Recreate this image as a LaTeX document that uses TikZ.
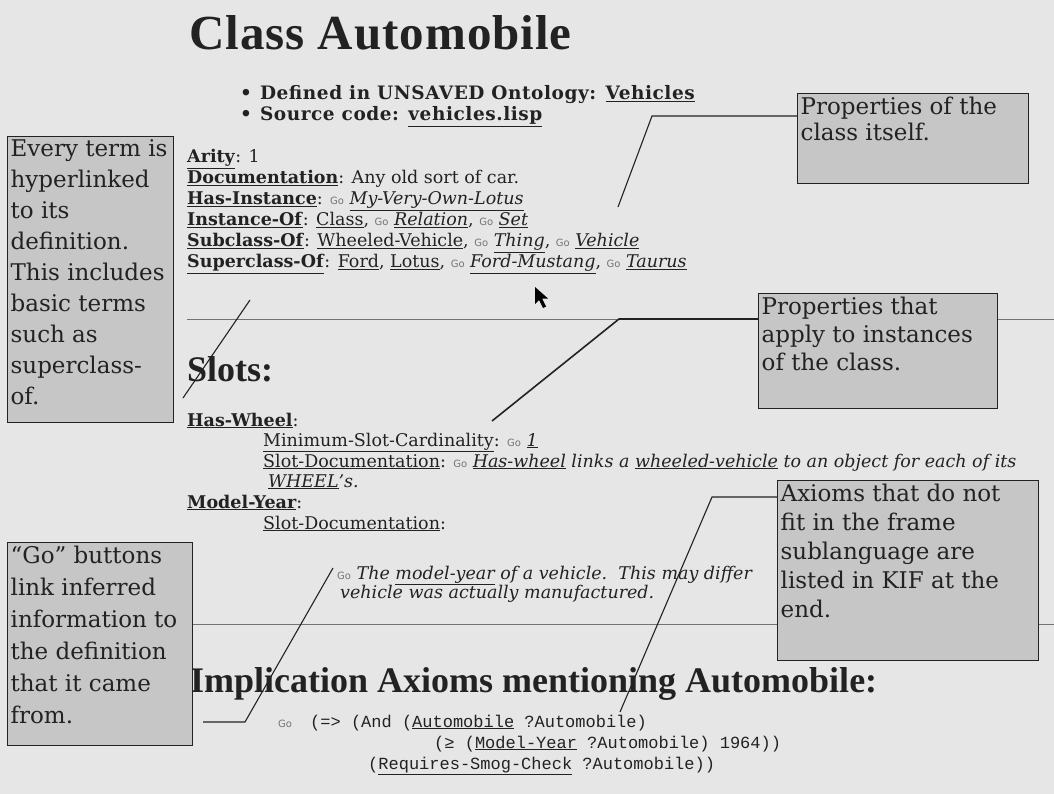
\documentclass[tikz,border=0pt]{standalone}
\usepackage{fontspec}
\setmainfont{DejaVu Serif}
\newfontfamily\headfont{Liberation Serif}
\newfontfamily\gofont{DejaVu Sans}
\setmonofont{Liberation Mono}
\usetikzlibrary{positioning}

\definecolor{paper}{HTML}{E6E6E6}
\definecolor{boxgray}{HTML}{C6C6C6}
\definecolor{ink}{HTML}{222222}

\newcommand\lk[1]{\underline{#1}}
\newcommand\slot[1]{\underline{\textbf{#1}}}
\newcommand\il[1]{\underline{\textit{#1}}}
\newcommand\go{{\gofont\fontsize{10}{10}\selectfont\color{black!55}Go}\ }
\newcommand\notetext[3]{\parbox[t][#2][t]{#1}{\raggedright #3}}

\begin{document}
\begin{tikzpicture}[x=1pt,y=-1pt,
	note/.style={draw=ink, fill=boxgray, line width=1.3pt, anchor=north west,
		inner sep=3pt, text=ink, font=\fontsize{23}{31}\selectfont},
	row/.style={anchor=base west, inner sep=0pt, text=ink, font=\fontsize{17.5}{21}\selectfont},
	head/.style={anchor=base west, inner sep=0pt, text=ink, font=\headfont\bfseries},
	code/.style={anchor=base west, inner sep=0pt, text=ink, font=\ttfamily\fontsize{17}{21}\selectfont},
	lead/.style={draw=ink, line width=1.1pt},
	hrule/.style={draw=black!55, line width=1pt}]

	\fill[paper] (0,0) rectangle (1054,794);
	\useasboundingbox (0,0) rectangle (1054,794);

	% page rules
	\draw[hrule] (187,319) -- (1054,319);
	\draw[hrule] (175,624) -- (1054,624);

	% class header
	\node[head, font=\headfont\bfseries\fontsize{49}{52}\selectfont] (title) at (189,50) {\addfontfeature{LetterSpace=2}Class Automobile};
	\node[row, font=\bfseries\fontsize{18.5}{21}\selectfont] (defd) at (240,100) {\addfontfeature{LetterSpace=3}\textbullet\hspace{8pt}Defined in UNSAVED Ontology: \lk{Vehicles}};
	\node[row, font=\bfseries\fontsize{18.5}{21}\selectfont] (src)  at (240,121) {\addfontfeature{LetterSpace=3}\textbullet\hspace{8pt}Source code: \lk{vehicles.lisp}};

	% own slots
	\node[row] (arity) at (187,163) {\slot{Arity}: 1};
	\node[row] (doc)   at (187,184) {\slot{Documentation}: Any old sort of car.};
	\node[row] (hasin) at (187,205) {\slot{Has-Instance}: \go\il{My-Very-Own-Lotus}};
	\node[row] (insof) at (187,226) {\slot{Instance-Of}: \lk{Class}, \go\il{Relation}, \go\il{Set}};
	\node[row] (subof) at (187,247) {\slot{Subclass-Of}: \lk{Wheeled-Vehicle}, \go\il{Thing}, \go\il{Vehicle}};
	\node[row] (supof) at (187,268) {\slot{Superclass-Of}: \lk{Ford}, \lk{Lotus}, \go\il{Ford-Mustang}, \go\il{Taurus}};

	% template slots
	\node[head, font=\headfont\bfseries\fontsize{36}{38}\selectfont] (slots) at (187,381) {Slots:};
	\node[row] (wheel) at (187,426) {\slot{Has-Wheel}:};
	\node[row] (mincd) at (263,446) {\lk{Minimum-Slot-Cardinality}: \go\il{1}};
	\node[row] (sdoc1) at (263,467) {\lk{Slot-Documentation}: \go\il{Has-wheel} \textit{links a} \il{wheeled-vehicle} \textit{to an object for each of its}};
	\node[row] (sdoc2) at (268,487) {\il{WHEEL}\textit{'s.}};
	\node[row] (myear) at (187,508) {\slot{Model-Year}:};
	\node[row] (sdoc3) at (263,529) {\lk{Slot-Documentation}:};
	\node[row] (mydc1) at (337,579) {\go\textit{The \lk{model-year} of a vehicle.\ \ This may differ}};
	\node[row] (mydc2) at (340,598) {\textit{vehicle was actually manufactured.}};

	% axioms
	\node[head, font=\headfont\bfseries\fontsize{36}{38}\selectfont] (impl) at (190,692) {Implication Axioms mentioning Automobile:};
	\node[row] (gok) at (278,727) {\go};
	\node[code] (ax1) at (310,727) {(=> (And (\lk{Automobile} ?Automobile)};
	\node[code] (ax2) at (434,748) {(≥ (\lk{Model-Year} ?Automobile) 1964))};
	\node[code] (ax3) at (368,769) {(\lk{Requires-Smog-Check} ?Automobile))};

	% mouse pointer
	\fill[black] (535,287) -- ++(0,17) -- ++(4,-4) -- ++(4,8) -- ++(3,-1.5) -- ++(-4,-8) -- ++(6,0) -- cycle;

	% callouts
	\node[note] (term) at (7,136) {\notetext{160pt}{280pt}{Every term is\\hyperlinked\\to its\\definition.\\This includes\\basic terms\\such as\\superclass-\\of.}};
	\node[note, font=\fontsize{23}{26}\selectfont] (itself) at (797,93) {\notetext{225pt}{84pt}{Properties of the\\class itself.}};
	\node[note, font=\fontsize{23}{28}\selectfont] (apply) at (758,293) {\notetext{233pt}{109pt}{Properties that\\apply to instances\\of the class.}};
	\node[note, font=\fontsize{23}{29}\selectfont] (axioms) at (777,480) {\notetext{255pt}{174pt}{Axioms that do not\\fit in the frame\\sublanguage are\\listed in KIF at the\\end.}};
	\node[note, font=\fontsize{23}{32}\selectfont] (gobtn) at (7,542) {\notetext{179pt}{197pt}{``Go'' buttons\\link inferred\\information to\\the definition\\that it came\\from.}};

	% leader lines
	\coordinate (t1) at (250,300); \coordinate (t2) at (183,398);
	\coordinate (k2) at (652,116); \coordinate (e2) at (618,207);
	\coordinate (k3) at (619,319); \coordinate (e3) at (492,421);
	\coordinate (k4) at (712,497); \coordinate (e4) at (620,712);
	\coordinate (s5) at (203,722); \coordinate (k5) at (245,722); \coordinate (e5) at (333,568);

	\draw[lead] (t1) -- (t2);
	\draw[lead] (itself.west |- k2) -- (k2) -- (e2);
	\draw[lead, line width=1.6pt] (apply.west |- k3) -- (k3) -- (e3);
	\draw[lead] (axioms.west |- k4) -- (k4) -- (e4);
	\draw[lead] (s5) -- (k5) -- (e5);

\end{tikzpicture}
\end{document}
